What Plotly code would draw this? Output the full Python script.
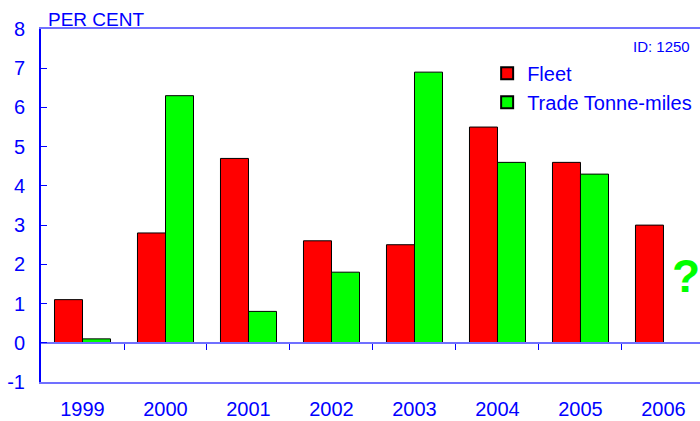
import plotly.graph_objects as go

years = ["1999", "2000", "2001", "2002", "2003", "2004", "2005", "2006"]
fleet = [1.1, 2.8, 4.7, 2.6, 2.5, 5.5, 4.6, 3.0]
trade = [0.1, 6.3, 0.8, 1.8, 6.9, 4.6, 4.3, None]
y_ticks = [-1, 0, 1, 2, 3, 4, 5, 6, 7, 8]
y_ticktext = ["-1", "0", "1", "2", "3", "4", "5", "6", "7", "8"]

BLUE = "#0000ff"
LIGHT = "#7070ff"
FONT = "Arial, Liberation Sans, sans-serif"
xpos = list(range(len(years)))

fig = go.Figure()
fig.add_trace(go.Bar(x=xpos, y=fleet, name="Fleet",
                     marker=dict(color="#ff0000", line=dict(color="black", width=1))))
fig.add_trace(go.Bar(x=xpos, y=trade, name="Trade Tonne-miles",
                     marker=dict(color="#00ff00", line=dict(color="black", width=1))))
# invisible trace to activate the zero-line axis
fig.add_trace(go.Scatter(x=[None], y=[None], xaxis="x2", showlegend=False))

fig.update_layout(
    width=700, height=421,
    margin=dict(l=41, r=0, t=29, b=39),
    paper_bgcolor="white", plot_bgcolor="white",
    barmode="group", bargap=0.325, bargroupgap=0,
    font=dict(family=FONT, color=BLUE),
    showlegend=True,
    legend=dict(x=0.677, y=0.93, xanchor="left", yanchor="top",
                font=dict(size=20, color=BLUE), bgcolor="rgba(0,0,0,0)",
                tracegroupgap=0, itemsizing="constant"),
    xaxis=dict(range=[-0.5, 7.44], tickvals=xpos, ticktext=years,
               showgrid=False, zeroline=False, showline=True, linecolor=LIGHT,
               linewidth=2, mirror=True, ticks="", ticklabelstandoff=8,
               automargin=False, tickfont=dict(size=20, color=BLUE)),
    xaxis2=dict(range=[-0.5, 7.44], overlaying="x", anchor="free", position=1/9,
                showgrid=False, zeroline=False, showline=True, linecolor=LIGHT,
                linewidth=2, ticks="outside", ticklen=6, tickcolor=BLUE,
                automargin=False,
                tickvals=[0.5, 1.5, 2.5, 3.5, 4.5, 5.5, 6.5], showticklabels=False),
    yaxis=dict(range=[-1, 8], tickvals=y_ticks, ticktext=y_ticktext,
               showgrid=False, zeroline=False, automargin=False,
               showline=True, linecolor=BLUE, linewidth=2,
               ticks="inside", ticklen=6, tickcolor=BLUE, ticklabelstandoff=10,
               tickfont=dict(size=20, color=BLUE)),
    annotations=[
        dict(text="PER CENT", xref="paper", yref="paper", x=0.008, y=1.0,
             xanchor="left", yanchor="bottom", showarrow=False, yshift=-3,
             font=dict(size=19, color=BLUE)),
        dict(text="ID: 1250", xref="paper", yref="paper", x=0.988, y=0.98,
             xanchor="right", yanchor="top", showarrow=False,
             font=dict(size=15, color=BLUE)),
        dict(text="<b>?</b>", xref="x", yref="y", x=7.27, y=1.7,
             xanchor="center", yanchor="middle", showarrow=False,
             font=dict(size=46, color="#00ff00")),
    ],
)

fig.write_html("out.html")
